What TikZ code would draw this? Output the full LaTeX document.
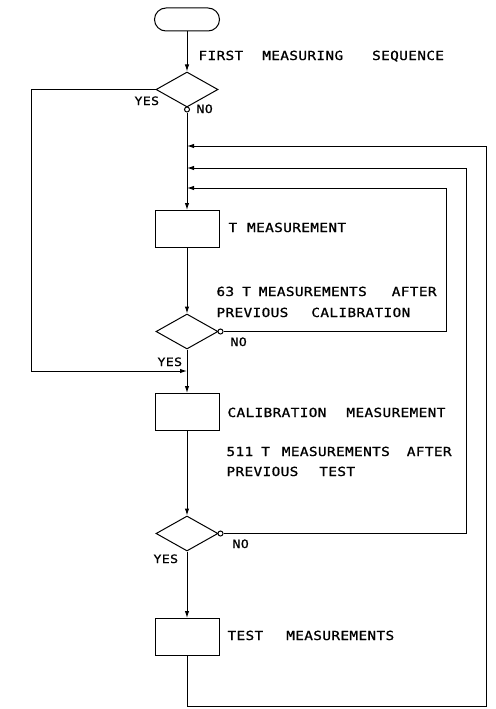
\documentclass[tikz,border=0pt]{standalone}
\usepackage{fontspec}
\usetikzlibrary{shapes.geometric,arrows.meta}
\newfontfamily\letfont[FakeStretch=1.15,LetterSpace=3,FakeBold=1]{DejaVu Sans Mono}
\begin{document}
\begin{tikzpicture}[x=1pt,y=-1pt, line width=1pt,
  box/.style={draw, minimum width=64pt, minimum height=37pt, inner sep=0pt},
  dec/.style={draw, diamond, minimum width=62pt, minimum height=35pt, inner sep=0pt},
  term/.style={draw, rounded corners=11.5pt, minimum width=65pt, minimum height=23pt, inner sep=0pt},
  flow/.style={-{Latex[length=7pt,width=4.5pt]}},
  lbl/.style={anchor=base west, inner sep=0pt, font=\letfont\fontsize{12.5}{14}\selectfont},
  yn/.style={anchor=base west, inner sep=0pt, font=\letfont\fontsize{11.5}{13}\selectfont},
  noc/.style={draw, circle, minimum size=5pt, inner sep=0pt, fill=white}
]
\useasboundingbox (0,0) rectangle (495,709);
% nodes
\node[term] (start) at (187,19.5) {};
\node[dec] (d1) at (187,89.5) {};
\node[noc] (c1) at (187,109.5) {};
\node[box] (tm) at (187,229) {};
\node[dec] (d2) at (187,331.5) {};
\node[noc] (c2) at (220.5,331.5) {};
\node[box] (cal) at (187,412) {};
\node[dec] (d3) at (187,533.5) {};
\node[noc] (c3) at (220.5,533.5) {};
\node[box] (test) at (187,637) {};
\coordinate (j1) at (187,146);
\coordinate (j2) at (187,168);
\coordinate (j3) at (187,188);
\coordinate (jy) at (187,371);
% connectors
\draw[flow] (start) -- (d1);
\draw[flow] (c1) -- (tm);
\draw[flow] (tm) -- (d2);
\draw[flow] (d2) -- (cal);
\draw[flow] (cal) -- (d3);
\draw[flow] (d3) -- (test);
\draw[flow] (d1.west) -| (31,371) -- (jy);
\draw[flow] (c2) -- (446,331.5) |- (j3);
\draw[flow] (c3) -- (466,533.5) |- (j2);
\draw[flow] (test) -- (187,706) -| (486,146) -- (j1);
% texts
\node[lbl] (t1) at (198,60) {FIRST\hspace{19pt}MEASURING\hspace{29pt}SEQUENCE};
\node[lbl] (t2) at (228,232) {T\hspace{10pt}MEASUREMENT};
\node[lbl] (t3) at (216,296) {63\hspace{8pt}T\hspace{8pt}MEASUREMENTS\hspace{25pt}AFTER};
\node[lbl] (t4) at (216,317) {PREVIOUS\hspace{23pt}CALIBRATION};
\node[lbl] (t5) at (227,417) {CALIBRATION\hspace{20pt}MEASUREMENT};
\node[lbl] (t6) at (226,456) {511\hspace{8pt}T\hspace{12pt}MEASUREMENTS\hspace{17pt}AFTER};
\node[lbl] (t7) at (226,476) {PREVIOUS\hspace{21pt}TEST};
\node[lbl] (t8) at (227,640) {TEST\hspace{23pt}MEASUREMENTS};
\node[yn] (y1) at (134,105) {YES};
\node[yn] (n1) at (196,113) {NO};
\node[yn] (y2) at (157,366) {YES};
\node[yn] (n2) at (230,346) {NO};
\node[yn] (y3) at (153,563) {YES};
\node[yn] (n3) at (232,548) {NO};
\end{tikzpicture}
\end{document}
